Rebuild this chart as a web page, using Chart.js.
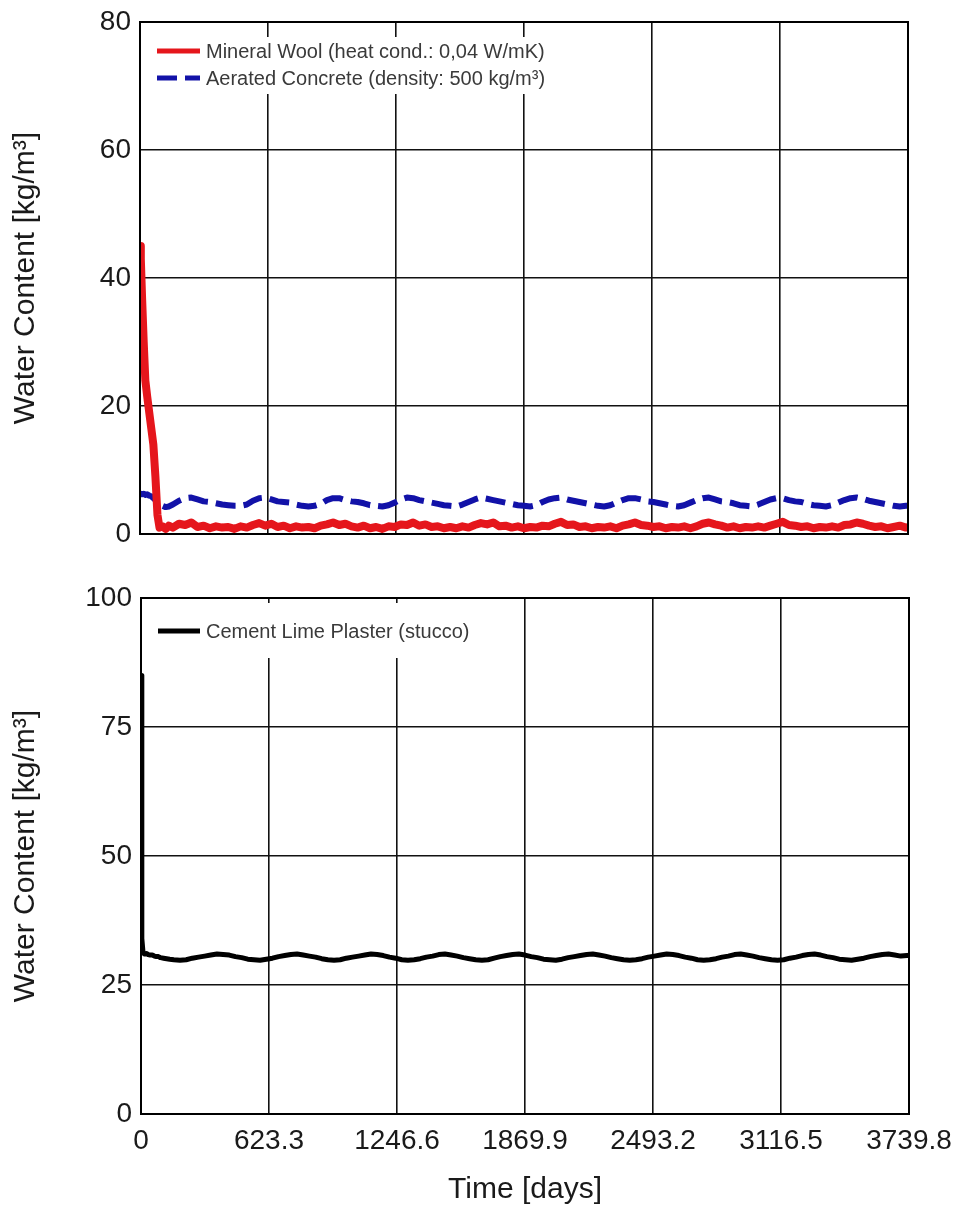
<!DOCTYPE html>
<html>
<head>
<meta charset="utf-8">
<script src="https://cdn.jsdelivr.net/npm/chart.js@4.4.1/dist/chart.umd.min.js"></script>
<style>
  body { margin: 0; background: #fff; }
  #wrap { position: relative; width: 958px; height: 1209px; }
  canvas { position: absolute; left: 0; }
</style>
</head>
<body>
<div id="wrap">
  <canvas id="topChart" width="958" height="560" style="top:0"></canvas>
  <canvas id="bottomChart" width="958" height="649" style="top:560px"></canvas>
</div>
<script>
// time axis (days)
const days = [
  0, 4, 10, 18, 26, 35, 45, 55, 65, 75, 85, 95, 110, 125, 140,
  160, 190, 220, 250, 280, 310, 340, 370, 400, 430, 460, 490,
  520, 550, 580, 610, 640, 670, 700, 730, 760, 790, 820, 850,
  880, 910, 940, 970, 1000, 1030, 1060, 1090, 1120, 1150, 1180, 1210,
  1240, 1270, 1300, 1330, 1360, 1390, 1420, 1450, 1480, 1510, 1540, 1570,
  1600, 1630, 1660, 1690, 1720, 1750, 1780, 1810, 1840, 1870, 1900, 1930,
  1960, 1990, 2020, 2050, 2080, 2110, 2140, 2170, 2200, 2230, 2260, 2290,
  2320, 2350, 2380, 2410, 2440, 2470, 2500, 2530, 2560, 2590, 2620, 2650,
  2680, 2710, 2740, 2770, 2800, 2830, 2860, 2890, 2920, 2950, 2980, 3010,
  3040, 3070, 3100, 3130, 3160, 3190, 3220, 3250, 3280, 3310, 3340, 3370,
  3400, 3430, 3460, 3490, 3520, 3550, 3580, 3610, 3640, 3670, 3700, 3730,
  3739.8
];

// water content [kg/m3]
const mineralWool = [
  45, 43, 37, 30, 24, 21.5, 19, 16.5, 14, 9, 3, 1.0, 1.2, 0.8, 1.3,
  1.0, 1.6, 1.4, 1.8, 1.1, 1.3, 0.9, 1.2, 1.0, 1.1, 0.8, 1.2,
  1.0, 1.4, 1.7, 1.3, 1.6, 1.1, 1.3, 0.9, 1.2, 1.0, 1.1, 0.9,
  1.3, 1.5, 1.8, 1.4, 1.6, 1.2, 1.0, 1.3, 0.9, 1.1, 0.8, 1.2,
  1.1, 1.5, 1.4, 1.8, 1.3, 1.5, 1.1, 1.2, 0.9, 1.1, 0.9, 1.2,
  1.0, 1.4, 1.7, 1.5, 1.8, 1.2, 1.3, 1.0, 1.2, 0.9, 1.1, 1.0,
  1.3, 1.2, 1.6, 1.9, 1.4, 1.5, 1.1, 1.2, 0.9, 1.1, 1.0, 1.2,
  0.9, 1.3, 1.5, 1.8, 1.4, 1.3, 1.1, 1.2, 0.9, 1.1, 1.0, 1.2,
  0.9, 1.2, 1.6, 1.8, 1.5, 1.3, 1.0, 1.2, 0.9, 1.1, 1.0, 1.2,
  1.0, 1.3, 1.6, 1.9, 1.4, 1.3, 1.1, 1.2, 0.9, 1.1, 1.0, 1.2,
  1.0, 1.4, 1.5, 1.8, 1.6, 1.3, 1.1, 1.2, 0.9, 1.1, 1.3, 1.0,
  1.1
];

const aeratedConcrete = [
  6.2, 6.3, 6.2, 6.3, 6.1, 6.2, 6.0, 5.9, 5.6, 5.3, 5.0, 4.7, 4.4, 4.2, 4.3,
  4.6, 5.2, 5.6, 5.7, 5.4, 5.1, 5.0, 4.8, 4.6, 4.5, 4.4, 4.4,
  4.6, 5.2, 5.6, 5.7, 5.4, 5.1, 5.0, 4.9, 4.6, 4.4, 4.3, 4.4,
  4.7, 5.3, 5.6, 5.6, 5.3, 5.1, 5.0, 4.8, 4.5, 4.4, 4.3, 4.5,
  4.9, 5.4, 5.7, 5.6, 5.3, 5.1, 4.9, 4.7, 4.5, 4.4, 4.3, 4.6,
  5.0, 5.4, 5.7, 5.5, 5.3, 5.1, 4.9, 4.7, 4.5, 4.4, 4.3, 4.5,
  5.0, 5.4, 5.6, 5.7, 5.4, 5.2, 5.0, 4.8, 4.6, 4.4, 4.3, 4.5,
  4.9, 5.3, 5.6, 5.6, 5.4, 5.1, 5.0, 4.8, 4.6, 4.4, 4.3, 4.5,
  4.9, 5.3, 5.6, 5.7, 5.4, 5.1, 5.0, 4.8, 4.5, 4.4, 4.3, 4.6,
  5.0, 5.4, 5.6, 5.6, 5.3, 5.1, 5.0, 4.7, 4.5, 4.4, 4.3, 4.5,
  4.9, 5.3, 5.6, 5.7, 5.5, 5.2, 5.0, 4.8, 4.6, 4.4, 4.3, 4.4,
  4.4
];

const cementLimePlaster = [
  85, 34, 31.2, 31.0, 31.1, 30.9, 30.8, 30.8, 30.6, 30.5, 30.5, 30.3, 30.2, 30.1, 30.0,
  29.9, 29.8, 29.9, 30.2, 30.4, 30.6, 30.8, 31.0, 30.9, 30.8, 30.5, 30.3,
  30.0, 29.9, 29.8, 30.0, 30.2, 30.5, 30.7, 30.9, 31.0, 30.8, 30.6, 30.4,
  30.1, 29.9, 29.8, 29.9, 30.2, 30.4, 30.6, 30.8, 31.0, 30.9, 30.7, 30.4,
  30.2, 29.9, 29.8, 29.9, 30.1, 30.4, 30.6, 30.9, 31.0, 30.8, 30.6, 30.3,
  30.1, 29.9, 29.8, 29.9, 30.2, 30.5, 30.7, 30.9, 31.0, 30.8, 30.5, 30.3,
  30.0, 29.9, 29.8, 30.0, 30.3, 30.5, 30.7, 30.9, 31.0, 30.8, 30.6, 30.3,
  30.1, 29.9, 29.8, 29.9, 30.1, 30.4, 30.6, 30.8, 31.0, 30.9, 30.7, 30.4,
  30.2, 29.9, 29.8, 29.9, 30.1, 30.4, 30.6, 30.9, 31.0, 30.8, 30.6, 30.3,
  30.1, 29.9, 29.8, 29.9, 30.2, 30.4, 30.7, 30.9, 31.0, 30.8, 30.5, 30.3,
  30.0, 29.9, 29.8, 30.0, 30.2, 30.5, 30.7, 30.9, 31.0, 30.8, 30.6, 30.7,
  30.8
];

const timeTicks = [0, 623.3, 1246.6, 1869.9, 2493.2, 3116.5, 3739.8];
const timeTickLabels = ["0", "623.3", "1246.6", "1869.9", "2493.2", "3116.5", "3739.8"];
const topTicks = [0, 20, 40, 60, 80];
const bottomTicks = [0, 25, 50, 75, 100];

const FONT = "'Liberation Sans', Arial, sans-serif";

function toPoints(values) {
    return values.map((v, i) => ({x: days[i], y: v}));
}

// closed black frame round the plot area
const framePlugin = {
    id: "frame",
    afterDatasetsDraw(chart) {
        const {ctx, chartArea: a} = chart;
        ctx.save();
        ctx.strokeStyle = "#000";
        ctx.lineWidth = 2;
        ctx.strokeRect(a.left, a.top, a.right - a.left, a.bottom - a.top);
        ctx.restore();
    }
};

// legend drawn inside the plot, top left, on a white box
const insetLegend = {
    id: "insetLegend",
    afterDatasetsDraw(chart, args, opts) {
        const {ctx, chartArea: a} = chart;
        const sets = chart.data.datasets;
        ctx.save();
        ctx.font = opts.fontSize + "px " + FONT;
        let maxW = 0;
        sets.forEach(ds => { maxW = Math.max(maxW, ctx.measureText(ds.label).width); });
        const x0 = a.left + opts.dx;
        const y0 = a.top + opts.dy;
        ctx.fillStyle = "#fff";
        ctx.fillRect(x0 - 8, y0 - opts.padTop, 8 + opts.sample + 6 + maxW + 8,
            opts.padTop + opts.rowH * (sets.length - 1) + opts.padBottom);
        sets.forEach((ds, i) => {
            const y = y0 + i * opts.rowH;
            ctx.strokeStyle = ds.borderColor;
            ctx.lineWidth = 5;
            ctx.setLineDash(ds.borderDash || []);
            ctx.beginPath();
            ctx.moveTo(x0, y);
            ctx.lineTo(x0 + opts.sample, y);
            ctx.stroke();
            ctx.setLineDash([]);
            ctx.fillStyle = "#3a3a3a";
            ctx.textBaseline = "middle";
            ctx.fillText(ds.label, x0 + opts.sample + 6, y + 1);
        });
        ctx.restore();
    }
};

function yAxis(ticks, width) {
    return {
        type: "linear",
        min: ticks[0],
        max: ticks[ticks.length - 1],
        afterBuildTicks: s => { s.ticks = ticks.map(v => ({value: v})); },
        afterFit: s => { s.width = width; s.paddingTop = 0; s.paddingBottom = 0; },
        grid: {color: "#111", lineWidth: 1.6, drawTicks: false},
        border: {color: "#000", width: 2},
        ticks: {color: "#1a1a1a", padding: 9, font: {family: FONT, size: 28}},
        title: {
            display: true,
            text: "Water Content [kg/m³]",
            color: "#1a1a1a",
            padding: {top: 11, bottom: 0},
            font: {family: FONT, size: 30, lineHeight: 1}
        }
    };
}

function xAxis(showLabels, height) {
    return {
        type: "linear",
        min: 0,
        max: 3739.8,
        afterBuildTicks: s => { s.ticks = timeTicks.map(v => ({value: v})); },
        afterFit: s => { s.height = height; s.paddingLeft = 0; s.paddingRight = 0; },
        grid: {color: "#111", lineWidth: 1.6, drawTicks: false},
        border: {color: "#000", width: 2},
        ticks: {
            display: showLabels,
            color: "#1a1a1a",
            padding: 10,
            maxRotation: 0,
            autoSkip: false,
            font: {family: FONT, size: 28},
            callback: (v, i) => timeTickLabels[i]
        },
        title: {
            display: showLabels,
            text: "Time [days]",
            color: "#1a1a1a",
            padding: {top: 0, bottom: 4},
            font: {family: FONT, size: 30, lineHeight: 1}
        }
    };
}

const common = {
    responsive: false,
    animation: false,
    events: [],
    plugins: {legend: {display: false}, tooltip: {enabled: false}},
    elements: {point: {radius: 0}, line: {tension: 0, borderJoinStyle: "round"}}
};

new Chart(document.getElementById("topChart"), {
    type: "line",
    data: {
        datasets: [{
            label: "Mineral Wool (heat cond.: 0,04 W/mK)",
            data: toPoints(mineralWool),
            borderColor: "#e5161c",
            borderWidth: 8
        }, {
            label: "Aerated Concrete (density: 500 kg/m³)",
            data: toPoints(aeratedConcrete),
            borderColor: "#1212a8",
            borderWidth: 6,
            borderDash: [20, 8]
        }]
    },
    options: {
        ...common,
        layout: {padding: {top: 22, right: 50, left: 0, bottom: 0}},
        plugins: {
            ...common.plugins,
            insetLegend: {dx: 17, dy: 29, rowH: 27, sample: 43, fontSize: 20, padTop: 14, padBottom: 16}
        },
        scales: {x: xAxis(false, 26), y: yAxis(topTicks, 140)}
    },
    plugins: [framePlugin, insetLegend]
});

new Chart(document.getElementById("bottomChart"), {
    type: "line",
    data: {
        datasets: [{
            label: "Cement Lime Plaster (stucco)",
            data: toPoints(cementLimePlaster),
            borderColor: "#000",
            borderWidth: 5
        }]
    },
    options: {
        ...common,
        layout: {padding: {top: 38, right: 49, left: 0, bottom: 0}},
        plugins: {
            ...common.plugins,
            insetLegend: {dx: 17, dy: 33, rowH: 27, sample: 42, fontSize: 20, padTop: 28, padBottom: 27}
        },
        scales: {x: xAxis(true, 95), y: yAxis(bottomTicks, 141)}
    },
    plugins: [framePlugin, insetLegend]
});
</script>
</body>
</html>
